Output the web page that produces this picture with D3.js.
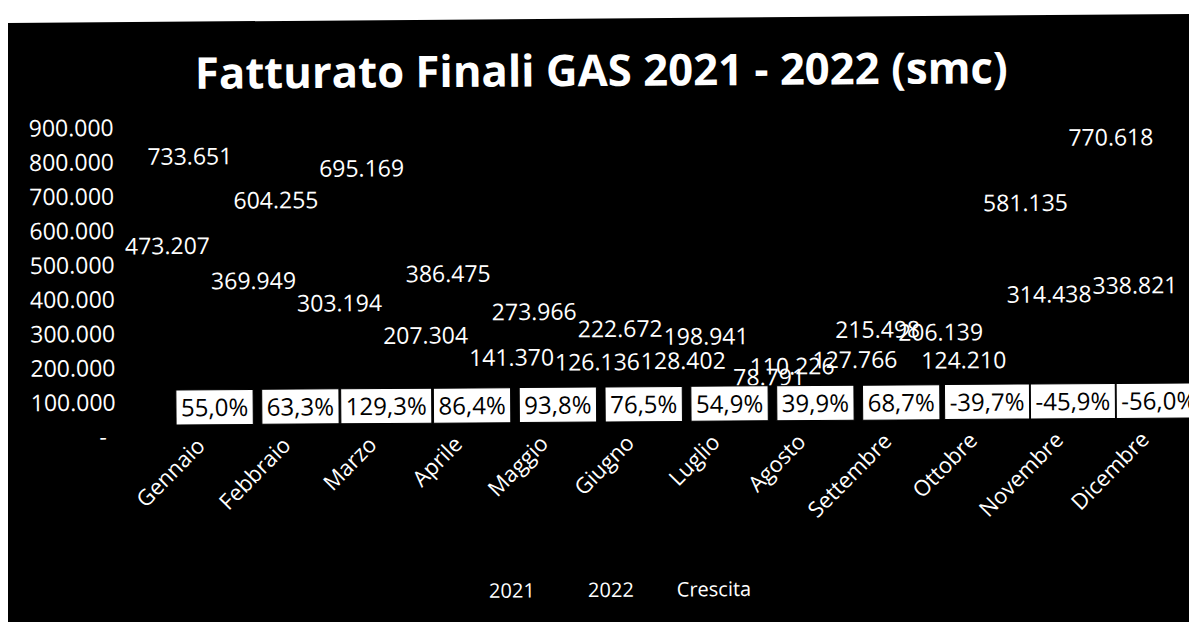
<!DOCTYPE html>
<html>
<head>
<meta charset="utf-8">
<script src="https://cdn.jsdelivr.net/npm/d3@7/dist/d3.min.js"></script>
<style>
  html, body { margin: 0; padding: 0; background: #fff; }
  svg { display: block; }
  text { font-family: "Open Sans", "Noto Sans", sans-serif; }
</style>
</head>
<body>
<svg id="chart" width="1189" height="622"></svg>
<script>
// ---- data ----
const months = ["Gennaio","Febbraio","Marzo","Aprile","Maggio","Giugno","Luglio","Agosto","Settembre","Ottobre","Novembre","Dicembre"];
const values2021 = [473207, 369949, 303194, 207304, 141370, 126136, 128402, 78791, 127766, 206139, 581135, 770618];
const values2022 = [733651, 604255, 695169, 386475, 273966, 222672, 198941, 110226, 215498, 124210, 314438, 338821];
const crescita = [55.0, 63.3, 129.3, 86.4, 93.8, 76.5, 54.9, 39.9, 68.7, -39.7, -45.9, -56.0];
const yTicks = [0, 100000, 200000, 300000, 400000, 500000, 600000, 700000, 800000, 900000];
const seriesNames = ["2021", "2022", "Crescita"];
const titleText = "Fatturato Finali GAS 2021 - 2022 (smc)";

const locale = d3.formatLocale({decimal: ",", thousands: ".", grouping: [3], currency: ["€", ""], minus: "-"});
const fmtInt = locale.format(",d");
const fmtPct = v => locale.format(".1f")(v) + "%";

const svg = d3.select("#chart");

// scanned black background
svg.append("polygon")
  .attr("points", [[8,23],[1189,14],[1189,622],[8,622]].map(p => p.join(",")).join(" "))
  .attr("fill", "#000");

// whole chart slightly tilted like the scan
const root = svg.append("g").attr("transform", "rotate(-0.4,600,311)");

// title
const title = root.append("text")
  .attr("x", 603).attr("y", 86)
  .attr("text-anchor", "middle")
  .attr("fill", "#fff")
  .attr("font-weight", "bold")
  .attr("font-size", 44)
  .text(titleText);
const tw = title.node().getComputedTextLength();
title.attr("font-size", 44 * 813 / tw);

// scales
const x = d3.scaleBand().domain(months).range([148, 1178]).paddingInner(0).paddingOuter(0);
const y = d3.scaleLinear().domain([0, 900000]).range([433, 124]);
const barW = 23;

// y axis
const yAxis = d3.axisLeft(y).tickValues(yTicks)
  .tickFormat(d => d === 0 ? "-" : fmtInt(d))
  .tickSize(0).tickPadding(0);
const gy = root.append("g").attr("transform", "translate(115,0)").call(yAxis);
gy.select(".domain").remove();
gy.selectAll("text")
  .attr("fill", "#fff")
  .attr("font-size", 23)
  .attr("font-family", "'Open Sans', sans-serif")
  .attr("dy", "0.35em");
gy.selectAll(".tick").filter(d => d === 0).select("text").attr("dx", -9);

// bars (black on black as in the scan)
const g = root.append("g");
months.forEach((m, i) => {
  const c = x(m) + x.bandwidth() / 2;
  g.append("rect").attr("x", c - barW * 1.5).attr("width", barW)
    .attr("y", y(values2021[i])).attr("height", y(0) - y(values2021[i])).attr("fill", "#000");
  g.append("rect").attr("x", c - barW * 0.5).attr("width", barW)
    .attr("y", y(values2022[i])).attr("height", y(0) - y(values2022[i])).attr("fill", "#000");
});

// data labels
const labelOff = 27.5;
const lab = root.append("g").attr("fill", "#fff").attr("font-size", 23).attr("text-anchor", "middle");
months.forEach((m, i) => {
  const c = x(m) + x.bandwidth() / 2;
  lab.append("text").attr("x", c - barW).attr("y", y(values2021[i]) - labelOff).attr("dy", "0.35em")
    .text(fmtInt(values2021[i]));
  lab.append("text").attr("x", c).attr("y", y(values2022[i]) - labelOff).attr("dy", "0.35em")
    .text(fmtInt(values2022[i]));
});

// crescita boxes
const boxG = root.append("g");
months.forEach((m, i) => {
  const c = x(m) + x.bandwidth() / 2 + barW;
  const t = boxG.append("text").attr("x", c).attr("y", 405).attr("dy", "0.35em")
    .attr("text-anchor", "middle").attr("font-size", 24).attr("fill", "#000")
    .text(fmtPct(crescita[i]));
  const w = t.node().getComputedTextLength() + 10;
  boxG.insert("rect", "text").attr("x", c - w / 2).attr("y", 387).attr("width", w).attr("height", 35)
    .attr("fill", "#fff").attr("stroke", "#000").attr("stroke-width", 1);
});

// x axis labels (rotated)
const xl = root.append("g");
months.forEach(m => {
  const c = x(m) + x.bandwidth() / 2;
  xl.append("text")
    .attr("transform", `translate(${c + 9},${439}) rotate(-45)`)
    .attr("text-anchor", "end").attr("dy", "0.35em")
    .attr("font-size", 22).attr("fill", "#fff")
    .text(m);
});

// legend
const legendX = [510, 609, 712];
seriesNames.forEach((s, i) => {
  root.append("text").attr("x", legendX[i]).attr("y", 590).attr("dy", "0.35em")
    .attr("text-anchor", "middle").attr("font-size", 20).attr("fill", "#fff").text(s);
});
</script>
</body>
</html>
